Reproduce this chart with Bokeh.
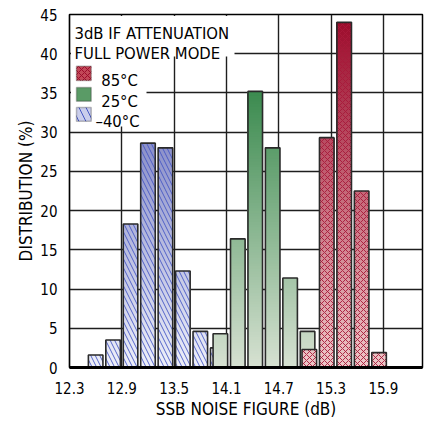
import numpy as np
from bokeh.plotting import figure
from bokeh.models import ColumnDataSource, FixedTicker, BoxAnnotation, Label, Range1d
from bokeh.embed import file_html
from bokeh.resources import INLINE

# ---- data ----
x_ticks = [12.3, 12.9, 13.5, 14.1, 14.7, 15.3, 15.9]
y_ticks = [0, 5, 10, 15, 20, 25, 30, 35, 40, 45]

blue_x = [12.6, 12.8, 13.0, 13.2, 13.4, 13.6, 13.8, 14.0]      # -40°C
blue_y = [1.6, 3.5, 18.3, 28.6, 28.0, 12.3, 4.6, 2.5]
green_x = [14.03, 14.23, 14.43, 14.63, 14.83, 15.03]           # 25°C
green_y = [4.3, 16.4, 35.2, 28.0, 11.4, 4.6]
red_x = [15.05, 15.25, 15.45, 15.65, 15.85]                    # 85°C
red_y = [2.3, 29.3, 44.0, 22.5, 1.9]
bar_width = 0.167

X0, X1 = 12.3, 16.348
Y0, Y1 = 0, 45

W, H = 429, 421
BL, BR, BT, BB = 69, 7, 14, 54
FONT = "DejaVu Sans Condensed"

p = figure(width=W, height=H, output_backend="svg", toolbar_location=None,
           x_range=Range1d(X0, X1), y_range=Range1d(Y0, Y1),
           min_border_left=BL, min_border_right=BR, min_border_top=BT,
           min_border_bottom=BB)
p.background_fill_color = "white"
p.border_fill_color = "white"
p.outline_line_color = "black"
p.outline_line_width = 1.5

FL, FR, FT, FB = BL, W - BR, BT, H - BB


def sx(px):  # page pixel -> data x
    return X0 + (px - FL) / (FR - FL) * (X1 - X0)


def sy(py):  # page pixel -> data y
    return Y0 + (FB - py) / (FB - FT) * (Y1 - Y0)


# ---- axes / grid ----
p.xaxis.ticker = FixedTicker(ticks=x_ticks)
p.yaxis.ticker = FixedTicker(ticks=y_ticks)
for ax in (p.xaxis[0], p.yaxis[0]):
    ax.major_tick_out = 0
    ax.major_tick_in = 0
    ax.minor_tick_out = 0
    ax.minor_tick_in = 0
    ax.major_label_text_font = FONT
    ax.major_label_text_font_size = "15px"
    ax.major_label_text_color = "black"
    ax.axis_line_color = "black"
    ax.axis_label_text_font = FONT
    ax.axis_label_text_font_size = "17px"
    ax.axis_label_text_font_style = "normal"
    ax.axis_label_text_color = "black"
p.xaxis.axis_line_width = 3
p.yaxis.axis_line_width = 1.2
p.xaxis.major_label_standoff = 14
p.yaxis.major_label_standoff = 12
p.yaxis.axis_label = "DISTRIBUTION (%)"
p.yaxis.axis_label_standoff = 1
p.xaxis.axis_label = "SSB NOISE FIGURE (dB)"
p.xaxis.axis_label_standoff = 2

p.xgrid.grid_line_color = "#1e1e1e"
p.ygrid.grid_line_color = "#1e1e1e"
p.xgrid.grid_line_width = 1.4
p.ygrid.grid_line_width = 1.4


def hex2rgb(h):
    h = h.lstrip("#")
    return np.array([int(h[i:i + 2], 16) for i in (0, 2, 4)], dtype=float)


def gradient_source(xs, ys, c_low, c_high, vmax, step=0.35):
    lo, hi = hex2rgb(c_low), hex2rgb(c_high)
    L, R, B, T, C = [], [], [], [], []
    for x, y in zip(xs, ys):
        v = 0.0
        while v < y:
            t = min((v + step / 2) / vmax, 1.0)
            c = lo + (hi - lo) * t
            L.append(x - bar_width / 2)
            R.append(x + bar_width / 2)
            B.append(v)
            T.append(y)
            C.append("#%02x%02x%02x" % tuple(int(round(k)) for k in c))
            v += step
    return ColumnDataSource(dict(left=L, right=R, bottom=B, top=T, color=C))


series = [
    (blue_x, blue_y, "#EEF0F9", "#898EC8", 29.0, "\\", "#4557C4", 9),
    (green_x, green_y, "#D7E1D2", "#3A8A4E", 35.5, None, None, None),
    (red_x, red_y, "#EDC8C8", "#9C0C2C", 44.0, "x", "#A8183A", 6),
]
for xs, ys, clo, chi, vmax, hp, hc, hs in series:
    src = gradient_source(xs, ys, clo, chi, vmax)
    p.quad(left="left", right="right", bottom="bottom", top="top",
           fill_color="color", line_color=None, source=src)
    kw = dict(x=xs, top=ys, width=bar_width, fill_alpha=0,
              line_color="#2a2a2a", line_width=1.6)
    if hp:
        kw.update(hatch_pattern=hp, hatch_color=hc, hatch_scale=hs,
                  hatch_weight=1, hatch_alpha=0.9)
    p.vbar(**kw)

# ---- legend (white boxes over grid) ----
p.add_layout(BoxAnnotation(left=sx(70.5), right=sx(234), bottom=sy(56), top=sy(15.5),
                           fill_color="white", fill_alpha=1, line_color=None))
p.add_layout(BoxAnnotation(left=sx(70.5), right=sx(146), bottom=sy(126), top=sy(56),
                           fill_color="white", fill_alpha=1, line_color=None))

for txt, base in (("3dB IF ATTENUATION", 32.5), ("FULL POWER MODE", 53)):
    p.add_layout(Label(x=sx(74), y=sy(base), text=txt, text_font=FONT,
                       text_font_size="16.5px", text_color="black",
                       text_baseline="alphabetic", text_align="left"))

legend_items = [
    ("85°C", 65.7, 80.0, "#C24858", "x", "#9C0C2C", 6, 100.7),
    ("25°C", 87.0, 100.7, "#5A9B66", None, None, None, 100.7),
    ("–40°C", 107.0, 120.7, "#CACEEC", "\\", "#4557C4", 14, 95.0),
]
for txt, top_px, bot_px, fc, hp, hc, hs, tx in legend_items:
    kw = dict(left=sx(76), right=sx(90.7), top=sy(top_px), bottom=sy(bot_px),
              fill_color=fc, fill_alpha=1, line_color="#2a2a2a", line_width=1.5)
    if hp:
        kw.update(hatch_pattern=hp, hatch_color=hc, hatch_scale=hs, hatch_weight=1)
    p.add_layout(BoxAnnotation(**kw))
    p.add_layout(Label(x=sx(tx), y=sy(bot_px), text=txt, text_font=FONT,
                       text_font_size="16.5px", text_color="black",
                       text_baseline="alphabetic", text_align="left"))

open("out.html", "w").write(file_html(p, INLINE))
